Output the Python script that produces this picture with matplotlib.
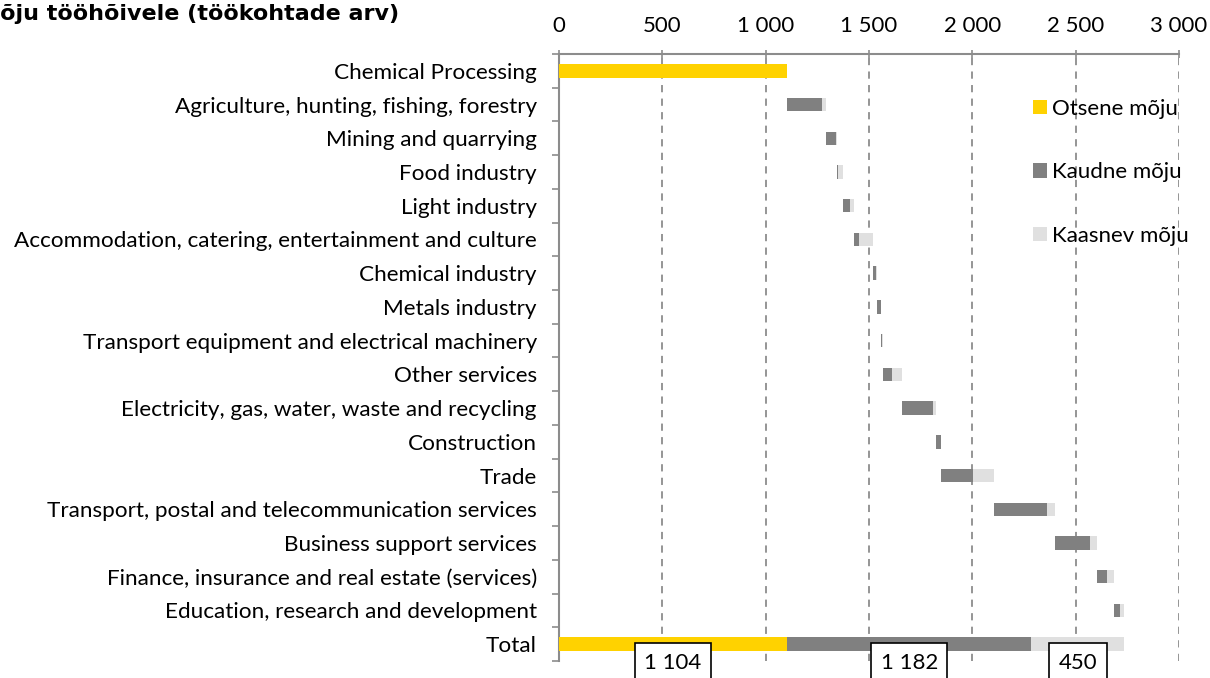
import numpy as np
import matplotlib.pyplot as plt
from matplotlib.ticker import FuncFormatter, FixedLocator

# Data (jobs)
categories = [
    "Chemical Processing",
    "Agriculture, hunting, fishing, forestry",
    "Mining and quarrying",
    "Food industry",
    "Light industry",
    "Accommodation, catering, entertainment and culture",
    "Chemical industry",
    "Metals industry",
    "Transport equipment and electrical machinery",
    "Other services",
    "Electricity, gas, water, waste and recycling",
    "Construction",
    "Trade",
    "Transport, postal and telecommunication services",
    "Business support services",
    "Finance, insurance and real estate (services)",
    "Education, research and development",
]
direct = 1104
indirect = [171, 45, 6, 32, 24, 17, 20, 3, 42, 150, 20, 155, 252, 169, 47, 29]
induced = [19, 4, 25, 21, 67, 3, 2, 5, 50, 16, 1, 105, 39, 37, 33, 23]
legend_labels = ["Otsene mõju", "Kaudne mõju", "Kaasnev mõju"]
title = "Mõju tööhõivele (töökohtade arv)"

YELLOW = "#FFD200"
GRAY = "#808080"
LIGHT = "#E0E0E0"
AXIS = "#8C8C8C"

labels = categories + ["Total"]
n = len(labels)
y = np.arange(n)
h = 0.4

fig = plt.figure(figsize=(12.1, 6.78), dpi=100)
ax = fig.add_axes([559 / 1210, 1 - 661 / 678, 620 / 1210, 607 / 678])
font = "Lato"
fs = 16.2

# waterfall rows
ax.barh(0, direct, height=h, color=YELLOW, zorder=3, label=legend_labels[0])
cum = direct
for i, (a, b) in enumerate(zip(indirect, induced), start=1):
    ax.barh(i, a, left=cum, height=h, color=GRAY, zorder=3,
            label=legend_labels[1] if i == 1 else None)
    ax.barh(i, b, left=cum + a, height=h, color=LIGHT, zorder=3,
            label=legend_labels[2] if i == 1 else None)
    cum += a + b

# total row
tot = [direct, sum(indirect), sum(induced)]
lefts = [0, tot[0], tot[0] + tot[1]]
for v, l, c in zip(tot, lefts, [YELLOW, GRAY, LIGHT]):
    ax.barh(n - 1, v, left=l, height=h, color=c, zorder=3)
    ax.text(l + v / 2, n - 1 + 0.55, f"{v:,}".replace(",", " "),
            ha="center", va="center", fontsize=16, family=font, zorder=5,
            clip_on=False,
            bbox=dict(boxstyle="square,pad=0.42", fc="white", ec="black", lw=1.2))

ax.set_xlim(0, 3000)
ax.set_ylim(n - 0.5, -0.5)
ax.xaxis.tick_top()
ax.set_xticks(np.arange(0, 3001, 500))
ax.xaxis.set_major_formatter(FuncFormatter(lambda v, p: f"{int(v):,}".replace(",", " ")))
ax.tick_params(axis="x", direction="inout", length=6, width=1.2, color=AXIS,
               pad=10, labelsize=16)
ax.grid(axis="x", color=AXIS, linestyle=(0, (4, 3.5)), linewidth=1.3, zorder=0)

ax.set_yticks(y)
ax.set_yticklabels(labels)
ax.yaxis.set_minor_locator(FixedLocator(np.arange(-0.5, n, 1)))
ax.tick_params(axis="y", which="major", length=0, pad=16, labelsize=fs)
ax.tick_params(axis="y", which="minor", direction="out", length=5, width=1.2, color=AXIS)
for lab in ax.get_xticklabels() + ax.get_yticklabels():
    lab.set_family(font)

for s in ["right", "bottom"]:
    ax.spines[s].set_visible(False)
for s in ["left", "top"]:
    ax.spines[s].set_color(AXIS)
    ax.spines[s].set_linewidth(1.5)
ax.set_axisbelow(True)

leg = ax.legend(loc="upper left", bbox_to_anchor=(1033 / 1210, 1 - 99 / 678),
                bbox_transform=fig.transFigure, frameon=False,
                prop={"family": font, "size": 16}, labelspacing=1.95,
                handlelength=0.62, handleheight=0.62, handletextpad=0.25,
                borderpad=0, borderaxespad=0)

# title, cropped at the left edge like the source image
tfs = 16
t = fig.text(0, 1 - 4 / 678, title, fontsize=tfs, family="DejaVu Sans",
             weight="bold", ha="left", va="top")
fig.canvas.draw()
r = fig.canvas.get_renderer()
m = fig.text(0, 0, title[0], fontsize=tfs, family="DejaVu Sans", weight="bold")
mw = m.get_window_extent(r).width
m.remove()
t.set_x(-mw / 1210)

fig.savefig("out.png", dpi=100)
